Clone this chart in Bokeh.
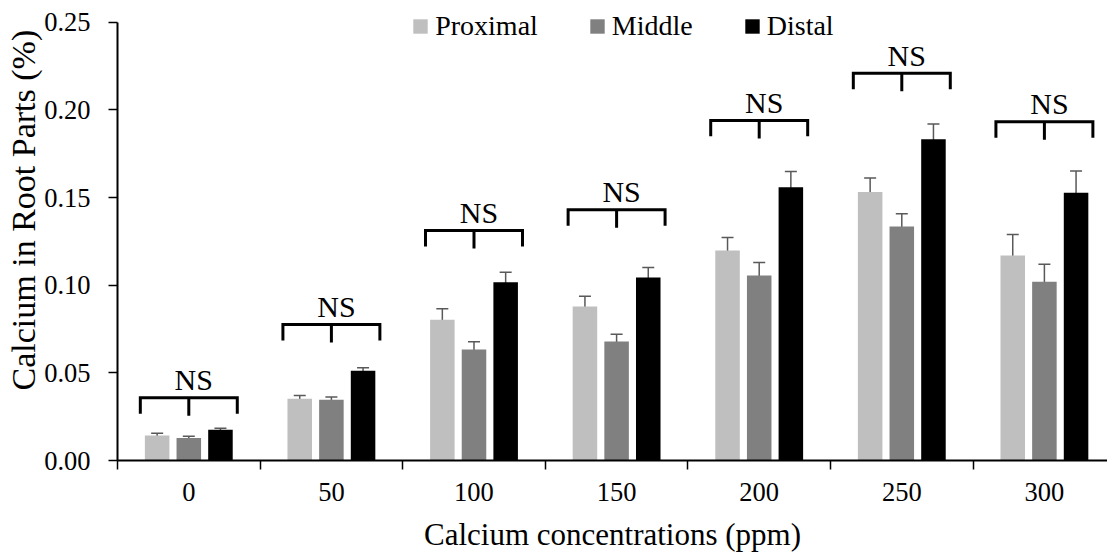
import math
from bokeh.plotting import figure
from bokeh.models import (Range1d, FixedTicker, Whisker, TeeHead, ColumnDataSource,
                          Legend, LegendItem, Title)
from bokeh.core.properties import value
from bokeh.embed import file_html
from bokeh.resources import INLINE

# ---------------- data ----------------
categories = ["0", "50", "100", "150", "200", "250", "300"]
series_names = ["Proximal", "Middle", "Distal"]
proximal = [0.0143, 0.0352, 0.0803, 0.0878, 0.1198, 0.1531, 0.1169]
middle = [0.0129, 0.0346, 0.0633, 0.0679, 0.1055, 0.1335, 0.1019]
distal = [0.0175, 0.0512, 0.1017, 0.1044, 0.1559, 0.1833, 0.1527]
err_proximal = [0.0013, 0.0019, 0.0062, 0.0059, 0.0074, 0.0081, 0.0120]
err_middle = [0.0010, 0.0016, 0.0045, 0.0041, 0.0075, 0.0072, 0.0100]
err_distal = [0.0009, 0.0017, 0.0057, 0.0057, 0.0090, 0.0086, 0.0124]
bracket_level = [0.0358, 0.0776, 0.1312, 0.1430, 0.1940, 0.2209, 0.1932]
bracket_text = ["NS", "NS", "NS", "NS", "NS", "NS", "NS"]
y_ticks = [0.0, 0.05, 0.10, 0.15, 0.20, 0.25]
y_tick_labels = ["0.00", "0.05", "0.10", "0.15", "0.20", "0.25"]
x_label = "Calcium concentrations (ppm)"
y_label = "Calcium in Root Parts (%)"

colors = ["#BFBFBF", "#808080", "#000000"]
err_color = "#595959"
FONT = "Liberation Serif"

# ---------------- layout ----------------
W, H = 1107, 554
p = figure(width=W, height=H, output_backend="svg", toolbar_location=None,
           x_range=Range1d(0, 6.9425), y_range=Range1d(0, 0.2601),
           min_border_left=117, min_border_right=0, min_border_top=4,
           min_border_bottom=94)
p.outline_line_color = None
p.xgrid.grid_line_color = None
p.ygrid.grid_line_color = None
p.background_fill_color = "white"
p.border_fill_color = "white"

centers = [i + 0.5 for i in range(len(categories))]
offset = 0.222
bar_w = 0.172

series_vals = [proximal, middle, distal]
series_errs = [err_proximal, err_middle, err_distal]
renderers = []
for k, (vals, errs) in enumerate(zip(series_vals, series_errs)):
    xs = [c + (k - 1) * offset for c in centers]
    src = ColumnDataSource(dict(x=xs, top=vals,
                                upper=[v + e for v, e in zip(vals, errs)],
                                lower=[v - e for v, e in zip(vals, errs)]))
    r = p.vbar(x="x", top="top", width=bar_w, bottom=0, source=src,
               fill_color=colors[k], line_color=None)
    renderers.append(r)
    wh = Whisker(source=src, base="x", upper="upper", lower="lower",
                 line_color=err_color, line_width=1.5,
                 upper_head=TeeHead(size=12, line_color=err_color, line_width=1.5),
                 lower_head=TeeHead(size=12, line_color=err_color, line_width=1.5))
    p.add_layout(wh)

# significance brackets
half = 0.34
leg = 0.0091
mid_leg = 0.0103
bx, by = [], []
for c, yv in zip(centers, bracket_level):
    bx.append([c - half, c - half, c + half, c + half])
    by.append([yv - leg, yv, yv, yv - leg])
p.multi_line(bx, by, line_color="black", line_width=3, line_join="miter")
p.segment(x0=centers, y0=bracket_level, x1=centers,
          y1=[yv - mid_leg for yv in bracket_level], line_color="black", line_width=3)
p.text(x=[c + 0.035 for c in centers], y=[yv + 0.0102 for yv in bracket_level],
       text=bracket_text, text_font=value(FONT), text_font_size="30px",
       text_align="center", text_baseline="alphabetic", text_color="black")

# axes
xa = p.xaxis[0]
xa.ticker = FixedTicker(ticks=centers, minor_ticks=list(range(len(categories) + 1)))
xa.major_label_overrides = {c: lab for c, lab in zip(centers, categories)}
xa.major_tick_line_color = None
xa.major_tick_out = 0
xa.major_tick_in = 0
xa.minor_tick_line_color = "black"
xa.minor_tick_line_width = 1.5
xa.minor_tick_out = 9
xa.minor_tick_in = 0
xa.axis_line_color = "black"
xa.axis_line_width = 2
xa.major_label_text_font = FONT
xa.major_label_text_font_size = "26.5px"
xa.major_label_text_color = "black"
xa.major_label_standoff = 13
xa.axis_label = x_label
xa.axis_label_text_font = FONT
xa.axis_label_text_font_size = "31px"
xa.axis_label_text_font_style = "normal"
xa.axis_label_text_color = "black"
xa.axis_label_standoff = 13

ya = p.yaxis[0]
ya.ticker = FixedTicker(ticks=y_ticks, minor_ticks=[])
ya.major_label_overrides = {t: lab for t, lab in zip(y_ticks, y_tick_labels)}
ya.bounds = (0, 0.25)
ya.major_tick_line_color = "black"
ya.major_tick_line_width = 1.5
ya.major_tick_out = 9
ya.major_tick_in = 0
ya.minor_tick_line_color = None
ya.axis_line_color = "black"
ya.axis_line_width = 2
ya.major_label_text_font = FONT
ya.major_label_text_font_size = "26.5px"
ya.major_label_text_color = "black"
ya.major_label_standoff = 18

ytitle = Title(text=y_label, align="left", offset=70, vertical_align="bottom", standoff=0,
               text_font=FONT, text_font_size="34px", text_font_style="normal",
               text_color="black")
p.add_layout(ytitle, "left")

legend = Legend(items=[LegendItem(label=n, renderers=[r]) for n, r in zip(series_names, renderers)],
                orientation="horizontal", location=(294.2, 418),
                glyph_width=18, glyph_height=18, label_standoff=6, spacing=50,
                padding=0, margin=0, border_line_color=None, background_fill_alpha=0,
                label_text_font=FONT, label_text_font_size="28px", label_text_color="black")
p.add_layout(legend)

open("out.html", "w").write(file_html(p, INLINE))
